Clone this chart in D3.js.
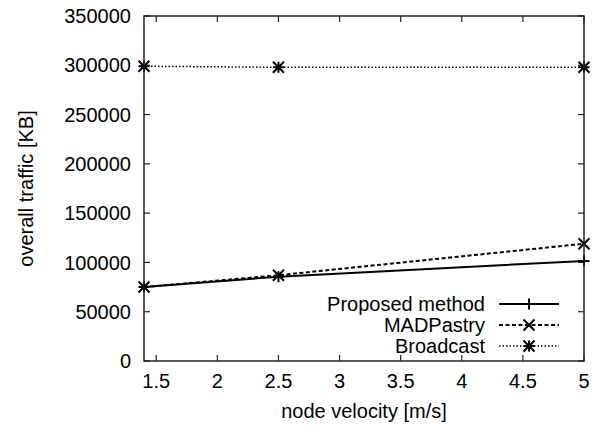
<!DOCTYPE html>
<html>
<head>
<meta charset="utf-8">
<script src="https://cdn.jsdelivr.net/npm/d3@7"></script>
<style>
  body { margin: 0; background: #fff; }
  text { font-family: "Liberation Sans", Arial, sans-serif; fill: #000; }
</style>
</head>
<body>
<div id="chart"></div>
<script>
const velocities = [1.4, 2.5, 5];
const proposed = [75000, 85500, 101500];
const madpastry = [75000, 87000, 119000];
const broadcast = [299000, 298000, 298000];
const xTicks = [1.5, 2, 2.5, 3, 3.5, 4, 4.5, 5];
const yTicks = [0, 50000, 100000, 150000, 200000, 250000, 300000, 350000];

const series = [
  { name: 'Proposed method', values: proposed, dash: null, width: 2, marker: 'plus' },
  { name: 'MADPastry', values: madpastry, dash: '4,2.5', width: 2, marker: 'cross' },
  { name: 'Broadcast', values: broadcast, dash: '1.5,2', width: 1.5, marker: 'star' }
];

const width = 600, height = 425;
const margin = { top: 16, right: 16, bottom: 64, left: 144 };
const fontSize = 20;

const svg = d3.select('#chart').append('svg')
  .attr('width', width)
  .attr('height', height);

const x = d3.scaleLinear().domain([1.4, 5]).range([margin.left, width - margin.right]);
const y = d3.scaleLinear().domain([0, 350000]).range([height - margin.bottom, margin.top]);

// gnuplot style markers
function marker(g, type, cx, cy) {
  const s = 5.5;
  const p = d3.path();
  if (type === 'plus' || type === 'star') {
    p.moveTo(cx - s, cy); p.lineTo(cx + s, cy);
    p.moveTo(cx, cy - s); p.lineTo(cx, cy + s);
  }
  if (type === 'cross' || type === 'star') {
    p.moveTo(cx - s, cy - s); p.lineTo(cx + s, cy + s);
    p.moveTo(cx - s, cy + s); p.lineTo(cx + s, cy - s);
  }
  g.append('path').attr('d', p.toString())
    .attr('stroke', '#000').attr('stroke-width', 2).attr('fill', 'none');
}

// ticks on all four sides, pointing inward
const tickLen = 6;
const frame = svg.append('g').attr('stroke', '#222').attr('stroke-width', 1.2);
xTicks.forEach(t => {
  frame.append('line').attr('x1', x(t)).attr('x2', x(t))
    .attr('y1', y.range()[0]).attr('y2', y.range()[0] - tickLen);
  frame.append('line').attr('x1', x(t)).attr('x2', x(t))
    .attr('y1', y.range()[1]).attr('y2', y.range()[1] + tickLen);
});
yTicks.forEach(t => {
  frame.append('line').attr('x1', x.range()[0]).attr('x2', x.range()[0] + tickLen)
    .attr('y1', y(t)).attr('y2', y(t));
  frame.append('line').attr('x1', x.range()[1]).attr('x2', x.range()[1] - tickLen)
    .attr('y1', y(t)).attr('y2', y(t));
});

svg.selectAll('.xt').data(xTicks).enter().append('text')
  .attr('x', d => x(d)).attr('y', 388)
  .attr('text-anchor', 'middle').attr('font-size', fontSize)
  .text(d => d);

svg.selectAll('.yt').data(yTicks).enter().append('text')
  .attr('x', 131).attr('y', d => y(d)).attr('dy', '0.36em')
  .attr('text-anchor', 'end').attr('font-size', fontSize)
  .text(d => d);

svg.append('text').attr('x', (x.range()[0] + x.range()[1]) / 2).attr('y', 418)
  .attr('text-anchor', 'middle').attr('font-size', fontSize)
  .text('node velocity [m/s]');

svg.append('text')
  .attr('transform', `translate(33,${(y.range()[0] + y.range()[1]) / 2}) rotate(-90)`)
  .attr('text-anchor', 'middle').attr('font-size', fontSize)
  .text('overall traffic [KB]');

// data lines
const line = d3.line().x(d => x(d[0])).y(d => y(d[1]));
series.forEach(s => {
  const pts = velocities.map((v, i) => [v, s.values[i]]);
  svg.append('path').datum(pts).attr('d', line)
    .attr('fill', 'none').attr('stroke', '#000')
    .attr('stroke-width', s.width)
    .attr('stroke-dasharray', s.dash);
  const g = svg.append('g');
  pts.forEach(p => marker(g, s.marker, x(p[0]), y(p[1])));
});

// legend
const legend = svg.append('g');
series.forEach((s, i) => {
  const ly = 304 + i * 21;
  legend.append('text').attr('x', 485).attr('y', ly).attr('dy', '0.36em')
    .attr('text-anchor', 'end').attr('font-size', fontSize).text(s.name);
  legend.append('line').attr('x1', 499).attr('x2', 559).attr('y1', ly).attr('y2', ly)
    .attr('stroke', '#000').attr('stroke-width', s.width)
    .attr('stroke-dasharray', s.dash);
  marker(legend, s.marker, 529, ly);
});

// frame border
svg.append('rect')
  .attr('x', x.range()[0]).attr('y', y.range()[1])
  .attr('width', x.range()[1] - x.range()[0])
  .attr('height', y.range()[0] - y.range()[1])
  .attr('fill', 'none').attr('stroke', '#222').attr('stroke-width', 1.5);
</script>
</body>
</html>
